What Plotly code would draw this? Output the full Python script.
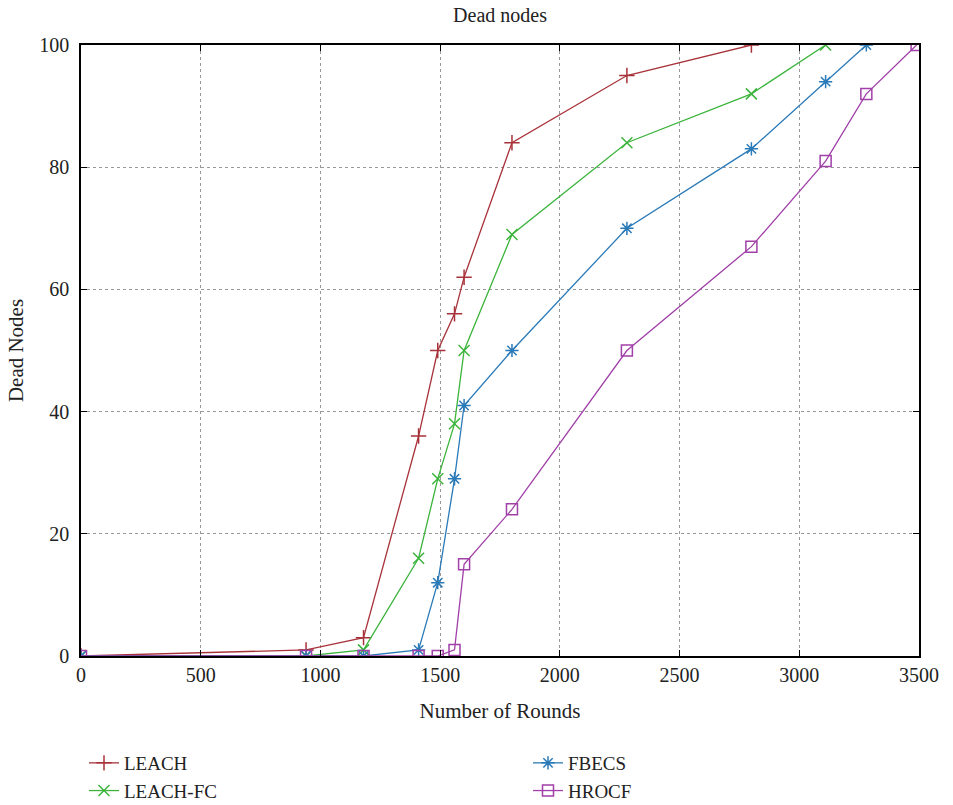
import plotly.graph_objects as go

leach_x = [0, 940, 1180, 1410, 1490, 1560, 1600, 1800, 2280, 2800]
leach_y = [0, 1, 3, 36, 50, 56, 62, 84, 95, 100]

leachfc_x = [0, 940, 1180, 1410, 1490, 1560, 1600, 1800, 2280, 2800, 3110]
leachfc_y = [0, 0, 1, 16, 29, 38, 50, 69, 84, 92, 100]

fbecs_x = [0, 940, 1180, 1410, 1490, 1560, 1600, 1800, 2280, 2800, 3110, 3280]
fbecs_y = [0, 0, 0, 1, 12, 29, 41, 50, 70, 83, 94, 100]

hrocf_x = [0, 940, 1180, 1410, 1490, 1560, 1600, 1800, 2280, 2800, 3110, 3280, 3490]
hrocf_y = [0, 0, 0, 0, 0, 1, 15, 24, 50, 67, 81, 92, 100]

x_ticks = [0, 500, 1000, 1500, 2000, 2500, 3000, 3500]
y_ticks = [0, 20, 40, 60, 80, 100]

FONT = "Liberation Serif"
TXT = "#222222"

fig = go.Figure()

series = [
    ("LEACH", leach_x, leach_y, "#a8323a", "cross-thin", "legend"),
    ("LEACH-FC", leachfc_x, leachfc_y, "#3cb43c", "x-thin", "legend"),
    ("FBECS", fbecs_x, fbecs_y, "#2a7ab8", "asterisk", "legend2"),
    ("HROCF", hrocf_x, hrocf_y, "#a040a8", "square-open", "legend2"),
]
for name, xs, ys, col, sym, leg in series:
    fig.add_trace(go.Scatter(
        x=xs, y=ys, name=name, mode="lines+markers",
        line=dict(color=col, width=1.3),
        marker=dict(symbol=sym, size=11, color=col, line=dict(color=col, width=1.5)),
        legend=leg,
    ))

axis_common = dict(
    showline=True, linecolor="black", linewidth=1.5, mirror="ticks",
    ticks="inside", ticklen=6, tickcolor="black",
    showgrid=True, gridcolor="#999999", griddash="dot", gridwidth=1,
    zeroline=False,
    tickfont=dict(family=FONT, size=20, color=TXT),
)

fig.update_xaxes(range=[0, 3500], tickvals=x_ticks,
                 title=dict(text="Number of Rounds", font=dict(family=FONT, size=21, color=TXT), standoff=19),
                 **axis_common)
fig.update_yaxes(range=[0, 100], tickvals=y_ticks, ticklabelstandoff=6,
                 title=dict(text="Dead Nodes", font=dict(family=FONT, size=21, color=TXT), standoff=10),
                 **axis_common)

leg_common = dict(orientation="h", xref="container", yref="container",
                  xanchor="left", y=1 - 744 / 805, yanchor="top",
                  entrywidth=420, entrywidthmode="pixels",
                  font=dict(family=FONT, size=19, color=TXT),
                  tracegroupgap=0, itemwidth=30, bgcolor="rgba(0,0,0,0)")

fig.update_layout(
    width=953, height=805,
    margin=dict(l=81, r=34, t=45, b=149),
    paper_bgcolor="white", plot_bgcolor="white",
    title=dict(text="Dead nodes", xref="paper", x=0.5, xanchor="center", y=1 - 15 / 805, yanchor="middle",
               font=dict(family=FONT, size=20, color=TXT)),
    legend=dict(x=84 / 953, **leg_common),
    legend2=dict(x=528 / 953, **leg_common),
    showlegend=True,
)

fig.write_html("out.html", config={"displayModeBar": False},
               post_script="document.body.style.margin='0';")
